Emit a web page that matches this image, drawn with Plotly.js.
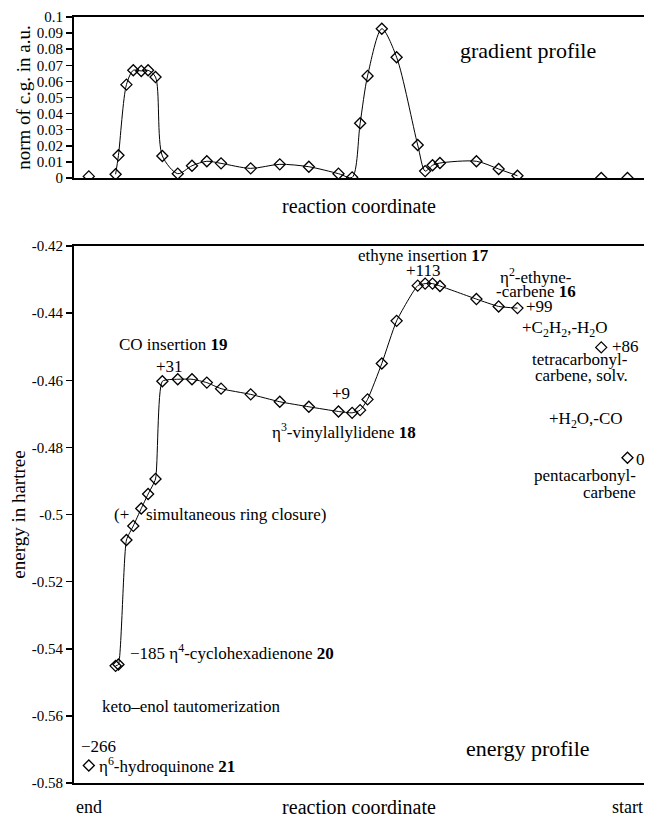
<!DOCTYPE html>
<html>
<head>
<meta charset="utf-8">
<script src="https://cdn.plot.ly/plotly-3.0.1.min.js"></script>
<style>html,body{margin:0;padding:0;background:#fff;}#chart{width:645px;height:819px;}</style>
</head>
<body>
<div id="chart"></div>
<script>
// reaction coordinate (arbitrary units, "end" at left, "start" at right)
const reactionCoord = [2.6, 7.3, 7.8, 9.2, 10.4, 11.8, 13.0, 14.3, 15.5, 18.2, 20.7, 23.3, 25.8, 31.0, 36.1, 41.2,
  46.4, 48.8, 50.2, 51.5, 54.0, 56.6, 60.3, 61.6, 62.9, 64.2, 70.6, 74.5, 77.8, 92.5, 97.1];
// norm of cartesian gradient (a.u.)
const gradientNorm = [0.001, 0.0023, 0.0141, 0.058, 0.0669, 0.0665, 0.0669, 0.0627, 0.0137, 0.0027, 0.0076, 0.0104,
  0.0091, 0.006, 0.0085, 0.007, 0.0027, 0.0004, 0.034, 0.0634, 0.0927, 0.075, 0.0205, 0.0043, 0.0079, 0.0093,
  0.0104, 0.0056, 0.0014, 0, 0];
// energy (hartree)
const energyHartree = [-0.5748, -0.5451, -0.5447, -0.5076, -0.5034, -0.4982, -0.4939, -0.4894, -0.4603, -0.4597,
  -0.4597, -0.4607, -0.4625, -0.4642, -0.4664, -0.4679, -0.4693, -0.4697, -0.4689, -0.4657, -0.455, -0.4423,
  -0.4318, -0.4312, -0.4312, -0.4319, -0.4358, -0.438, -0.4385, -0.4502, -0.4831];
// indices of the connected path and isolated stationary points
const pathFirst = 1, pathLast = 28;
const isolatedIdx = [0, 29, 30];

const gradTickVals = [0, 0.01, 0.02, 0.03, 0.04, 0.05, 0.06, 0.07, 0.08, 0.09, 0.1];
const gradTickText = ['0', '0.01', '0.02', '0.03', '0.04', '0.05', '0.06', '0.07', '0.08', '0.09', '0.1'];
const energyTickVals = [-0.58, -0.56, -0.54, -0.52, -0.5, -0.48, -0.46, -0.44, -0.42];
const energyTickText = ['-0.58', '-0.56', '-0.54', '-0.52', '-0.5', '-0.48', '-0.46', '-0.44', '-0.42'];

const FONT = 'Liberation Serif, Times New Roman, serif';
const AS = 17; // annotation font size
const pathX = reactionCoord.slice(pathFirst, pathLast + 1);
const isoX = isolatedIdx.map(i => reactionCoord[i]);
const mk = {symbol: 'diamond-open', size: 8.5, color: '#000', line: {width: 1.3, color: '#000'}};

const traces = [
  {x: pathX, y: gradientNorm.slice(pathFirst, pathLast + 1), xaxis: 'x', yaxis: 'y', mode: 'lines+markers',
   line: {shape: 'spline', smoothing: 0.8, color: '#000', width: 1}, marker: mk},
  {x: isoX, y: isolatedIdx.map(i => gradientNorm[i]), xaxis: 'x', yaxis: 'y', mode: 'markers', marker: mk},
  {x: pathX, y: energyHartree.slice(pathFirst, pathLast + 1), xaxis: 'x2', yaxis: 'y2', mode: 'lines+markers',
   line: {shape: 'spline', smoothing: 0.5, color: '#000', width: 1}, marker: mk},
  {x: isoX, y: isolatedIdx.map(i => energyHartree[i]), xaxis: 'x2', yaxis: 'y2', mode: 'markers', marker: mk}
];

const xBase = {range: [0, 100], showgrid: false, zeroline: false, showline: true, mirror: true, linewidth: 2,
  linecolor: '#000', ticks: '', showticklabels: false, fixedrange: true};
const yBase = {showgrid: false, zeroline: false, showline: true, linewidth: 2, linecolor: '#000',
  ticks: 'outside', ticklen: 6, tickwidth: 1.5, tickcolor: '#000', tickmode: 'array',
  tickfont: {family: FONT, size: 15, color: '#000'}};
const yRight = {showgrid: false, zeroline: false, showline: true, linewidth: 1, linecolor: '#000',
  ticks: 'inside', ticklen: 7, tickwidth: 1.5, tickcolor: '#000', showticklabels: false, side: 'right', tickmode: 'array'};

const ann = (text, x, y, xanchor, opts) => Object.assign({text, x, y, xref: 'x2', yref: 'y2', xanchor,
  yanchor: 'middle', showarrow: false, font: {family: FONT, size: AS, color: '#000'}}, opts || {});

const layout = {
  width: 645, height: 819, paper_bgcolor: '#fff', plot_bgcolor: '#fff', showlegend: false,
  margin: {l: 74, r: 1, t: 17, b: 36},
  font: {family: FONT, size: 15, color: '#000'},
  xaxis: Object.assign({}, xBase, {domain: [0, 1], anchor: 'y',
    title: {text: 'reaction coordinate', standoff: 20, font: {family: FONT, size: 20}}}),
  yaxis: Object.assign({}, yBase, {domain: [0.7898, 1], anchor: 'x', range: [0, 0.1],
    tickvals: gradTickVals, ticktext: gradTickText,
    title: {text: 'norm of c.g. in a.u.', standoff: 1, font: {family: FONT, size: 19}}}),
  yaxis3: Object.assign({}, yRight, {overlaying: 'y', anchor: 'x', range: [0, 0.1], tickvals: gradTickVals}),
  xaxis2: Object.assign({}, xBase, {domain: [0, 1], anchor: 'y2',
    title: {text: 'reaction coordinate', standoff: 16, font: {family: FONT, size: 20}}}),
  yaxis2: Object.assign({}, yBase, {domain: [0, 0.701], anchor: 'x2', range: [-0.58, -0.42],
    tickvals: energyTickVals, ticktext: energyTickText,
    title: {text: 'energy in hartree', standoff: 1, font: {family: FONT, size: 19}}}),
  yaxis4: Object.assign({}, yRight, {overlaying: 'y2', anchor: 'x2', range: [-0.58, -0.42], tickvals: energyTickVals}),
  annotations: [
    {text: 'gradient profile', x: 79.65, y: 0.0795, xref: 'x', yref: 'y', xanchor: 'center', yanchor: 'middle',
     showarrow: false, font: {family: FONT, size: 22, color: '#000'}},
    ann('energy profile', 79.65, -0.5697, 'center', {font: {family: FONT, size: 22, color: '#000'}}),
    ann('CO insertion <b>19</b>', 7.54, -0.4492, 'left'),
    ann('+31', 16.75, -0.4560, 'center'),
    ann('(+', 6.7, -0.4999, 'left'),
    ann('simultaneous ring closure)', 44.6, -0.4999, 'right'),
    ann('+9', 46.84, -0.4638, 'center'),
    ann('η<sup>3</sup>-vinylallylidene <b>18</b>', 47.28, -0.4750, 'center'),
    ann('ethyne insertion <b>17</b>', 61.37, -0.4227, 'center'),
    ann('+113', 61.28, -0.4274, 'center'),
    ann('η<sup>2</sup>-ethyne-', 81.0, -0.4290, 'center'),
    ann('-carbene <b>16</b>', 81.05, -0.4335, 'center'),
    ann('+99', 78.95, -0.4379, 'left'),
    ann('+C<sub>2</sub>H<sub>2</sub>,-H<sub>2</sub>O', 86.1, -0.4447, 'center'),
    ann('+86', 94.0, -0.4500, 'left'),
    ann('tetracarbonyl-', 97.54, -0.4538, 'right'),
    ann('carbene, solv.', 97.54, -0.4585, 'right'),
    ann('+H<sub>2</sub>O,-CO', 89.74, -0.4719, 'center'),
    ann('0', 98.25, -0.4835, 'left'),
    ann('pentacarbonyl-', 98.95, -0.4883, 'right'),
    ann('carbene', 98.95, -0.4933, 'right'),
    ann('−185 η<sup>4</sup>-cyclohexadienone <b>20</b>', 9.47, -0.5409, 'left'),
    ann('keto–enol tautomerization', 4.56, -0.5573, 'left'),
    ann('−266', 0.88, -0.5692, 'left'),
    ann('η<sup>6</sup>-hydroquinone <b>21</b>', 3.98, -0.5745, 'left'),
    {text: 'end', x: reactionCoord[0], y: 0, xref: 'x2', yref: 'paper', xanchor: 'center', yanchor: 'top',
     yshift: -12, showarrow: false, font: {family: FONT, size: 18, color: '#000'}},
    {text: 'start', x: reactionCoord[reactionCoord.length - 1], y: 0, xref: 'x2', yref: 'paper', xanchor: 'center',
     yanchor: 'top', yshift: -12, showarrow: false, font: {family: FONT, size: 18, color: '#000'}}
  ]
};

Plotly.newPlot('chart', traces, layout, {staticPlot: true, displayModeBar: false});
</script>
</body>
</html>
